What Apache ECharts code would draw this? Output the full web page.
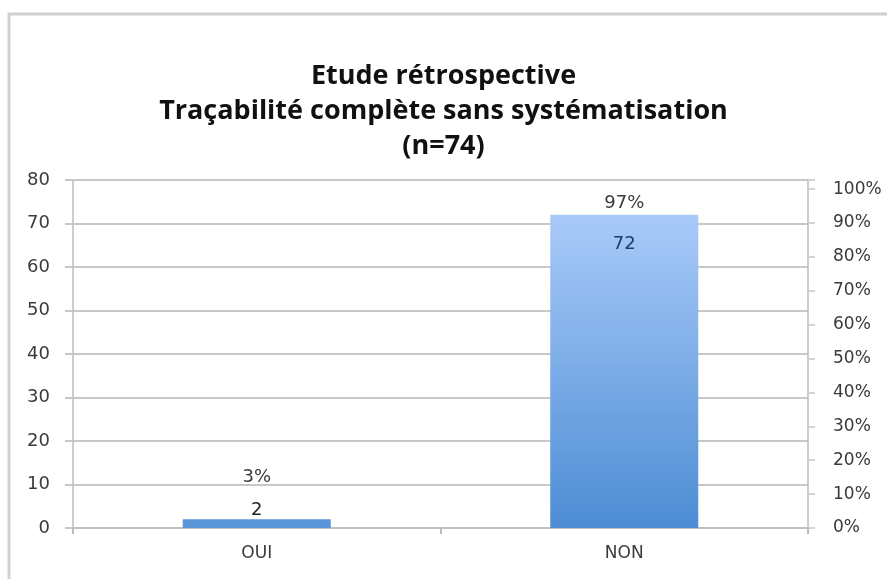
<!DOCTYPE html>
<html>
<head>
<meta charset="utf-8">
<script src="https://cdn.jsdelivr.net/npm/echarts@6/dist/echarts.min.js"></script>
<style>
html,body{margin:0;padding:0;background:#fff;}
#chart{width:887px;height:579px;}
</style>
</head>
<body>
<div id="chart"></div>
<script>
const titleLines = ['Etude rétrospective', 'Traçabilité complète sans systématisation', '(n=74)'];
const categories = ['OUI', 'NON'];
const counts = [2, 72];
const percents = [3, 97];
const leftTicks = [0, 10, 20, 30, 40, 50, 60, 70, 80];
const rightMax = 102.7;

const TFONT = '"Open Sans", Lato, sans-serif';
const FONT = '"DejaVu Sans", Verdana, sans-serif';
const chart = echarts.init(document.getElementById('chart'));

const pctLabelOffsets = [[0, -41], [0, 4]];

const option = {
  backgroundColor: '#ffffff',
  animation: false,
  title: {
    text: titleLines.join('\n'),
    left: 'center',
    top: 54,
    textStyle: {
      fontFamily: TFONT,
      fontWeight: 'bold',
      fontSize: 27,
      lineHeight: 35,
      color: '#111'
    }
  },
  graphic: [{
    type: 'rect',
    shape: {x: 9, y: 14, width: 900, height: 600},
    style: {fill: 'none', stroke: '#d0d0d0', lineWidth: 3},
    silent: true,
    z: -1
  }],
  grid: {left: 73, right: 79, top: 180, bottom: 51},
  xAxis: {
    type: 'category',
    data: categories,
    axisLine: {lineStyle: {color: '#bdbdbd', width: 1.5}},
    axisTick: {show: true, length: 6, lineStyle: {color: '#bdbdbd', width: 2}},
    axisLabel: {fontFamily: FONT, fontSize: 17, color: '#3a3a3a', margin: 17}
  },
  yAxis: [{
    type: 'value',
    min: leftTicks[0],
    max: leftTicks[leftTicks.length - 1],
    interval: 10,
    position: 'left',
    axisLine: {show: true, lineStyle: {color: '#bdbdbd', width: 1.5}},
    axisTick: {show: true, length: 8, lineStyle: {color: '#c8c8c8', width: 2}},
    splitLine: {show: true, lineStyle: {color: '#c8c8c8', width: 2}},
    axisLabel: {fontFamily: FONT, fontSize: 18, color: '#3a3a3a', margin: 23}
  }, {
    type: 'value',
    min: 0,
    max: rightMax,
    interval: 10,
    position: 'right',
    axisLine: {show: true, lineStyle: {color: '#bdbdbd', width: 1.5}},
    axisTick: {show: true, length: 7, lineStyle: {color: '#c8c8c8', width: 1.5}},
    splitLine: {show: false},
    axisLabel: {
      fontFamily: FONT, fontSize: 17, color: '#3a3a3a', margin: 25,
      formatter: function (v) {
        return Math.abs(v - Math.round(v / 10) * 10) < 1e-6 ? Math.round(v) + '%' : '';
      }
    }
  }],
  series: [{
    type: 'bar',
    yAxisIndex: 0,
    data: counts.map(function (v, i) {
      return {
        value: v,
        itemStyle: i === 0 ? {color: '#5a95d8'} : undefined,
        label: i === 1
          ? {position: 'insideTop', distance: 21, color: '#1c3d6c'}
          : {position: 'top', distance: 0, color: '#222'}
      };
    }),
    barWidth: 148,
    itemStyle: {
      color: new echarts.graphic.LinearGradient(0, 0, 0, 1, [
        {offset: 0, color: '#a9caf9'},
        {offset: 1, color: '#4d8dd4'}
      ])
    },
    label: {show: true, fontFamily: FONT, fontSize: 18}
  }, {
    type: 'line',
    yAxisIndex: 1,
    data: percents.map(function (v, i) {
      return {value: v, label: {offset: pctLabelOffsets[i]}};
    }),
    symbol: 'circle',
    symbolSize: 1,
    itemStyle: {color: 'rgba(0,0,0,0)'},
    lineStyle: {opacity: 0},
    label: {
      show: true,
      position: 'inside',
      formatter: '{c}%',
      fontFamily: FONT,
      fontSize: 18,
      color: '#3a3a3a'
    },
    z: 5
  }]
};
chart.setOption(option);
</script>
</body>
</html>
